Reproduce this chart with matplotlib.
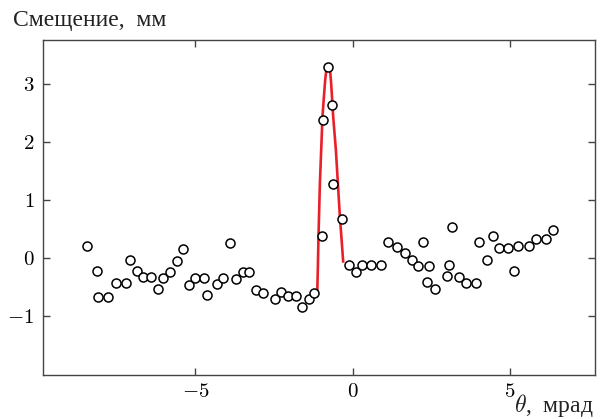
import numpy as np
import matplotlib
matplotlib.use("Agg")
from matplotlib import pyplot as plt

plt.rcParams['mathtext.fontset'] = 'cm'
plt.rcParams['font.family'] = ['Liberation Serif', 'DejaVu Serif']

# measured points: angle (mrad) and displacement (mm)
theta = [-8.44, -8.11, -8.09, -7.78, -7.53, -7.21, -7.07, -6.86, -6.67, -6.40,
         -6.17, -6.03, -5.79, -5.57, -5.39, -5.21, -5.00, -4.72, -4.64, -4.32,
         -4.12, -3.90, -3.70, -3.49, -3.28, -3.06, -2.86, -2.47, -2.27, -2.04,
         -1.79, -1.61, -1.40, -1.23, -0.97, -0.93, -0.78, -0.66, -0.61, -0.34,
         -0.11, 0.10, 0.30, 0.59, 0.91, 1.12, 1.40, 1.66, 1.87, 2.08,
         2.22, 2.36, 2.42, 2.61, 2.99, 3.06, 3.16, 3.39, 3.61, 3.91,
         4.02, 4.26, 4.47, 4.66, 4.95, 5.13, 5.26, 5.61, 5.83, 6.13, 6.36]
shift = [0.21, -0.23, -0.67, -0.67, -0.43, -0.43, -0.03, -0.23, -0.33, -0.33,
         -0.54, -0.35, -0.24, -0.05, 0.16, -0.47, -0.35, -0.35, -0.64, -0.45,
         -0.35, 0.25, -0.36, -0.25, -0.25, -0.55, -0.61, -0.71, -0.59, -0.66,
         -0.65, -0.84, -0.71, -0.60, 0.38, 2.38, 3.30, 2.64, 1.28, 0.67,
         -0.12, -0.24, -0.12, -0.13, -0.13, 0.28, 0.18, 0.08, -0.03, -0.14,
         0.28, -0.42, -0.14, -0.53, -0.32, -0.13, 0.54, -0.33, -0.44, -0.43,
         0.27, -0.03, 0.38, 0.17, 0.17, -0.23, 0.21, 0.21, 0.32, 0.32, 0.49]

# fitted peak
fit_x = [-1.127, -1.105, -1.086, -1.041, -1.000, -0.959, -0.914, -0.873, -0.832,
         -0.787, -0.724, -0.683, -0.619, -0.533, -0.470, -0.406, -0.343, -0.302]
fit_y = [-0.64, -0.15, 0.37, 1.29, 1.86, 2.44, 2.78, 3.07, 3.27,
         3.34, 3.27, 3.01, 2.44, 1.86, 1.29, 0.71, 0.25, -0.06]

fig = plt.figure(figsize=(6.01, 4.19), dpi=100)
ax = fig.add_axes([0.071, 0.105, 0.919, 0.7995])

ax.plot(fit_x, fit_y, color='#e8202a', lw=1.9, zorder=2)
ax.plot(theta, shift, 'o', ms=6.5, mfc='white', mec='black', mew=1.1, zorder=3)

ax.set_xlim(-9.85, 7.7)
ax.set_ylim(-2.02, 3.76)

ax.set_xticks([-5, 0, 5])
ax.set_xticklabels([r'$-5$', r'$0$', r'$5$'])
ax.set_yticks([-1, 0, 1, 2, 3])
ax.set_yticklabels([r'$-1$', r'$0$', r'$1$', r'$2$', r'$3$'])
ax.tick_params(direction='in', length=5, width=1, color='#444444',
               top=True, right=True, labelsize=15, pad=6)
for s in ax.spines.values():
    s.set_color('#444444')
    s.set_linewidth(1)

fig.text(0.022, 0.952, 'Смещение,  мм', fontsize=17, va='center', ha='left',
         color='#222222')
fig.text(0.987, 0.032, r'$\theta$,  мрад', fontsize=17, va='center', ha='right',
         color='#222222')

fig.savefig('out.png', dpi=100)
